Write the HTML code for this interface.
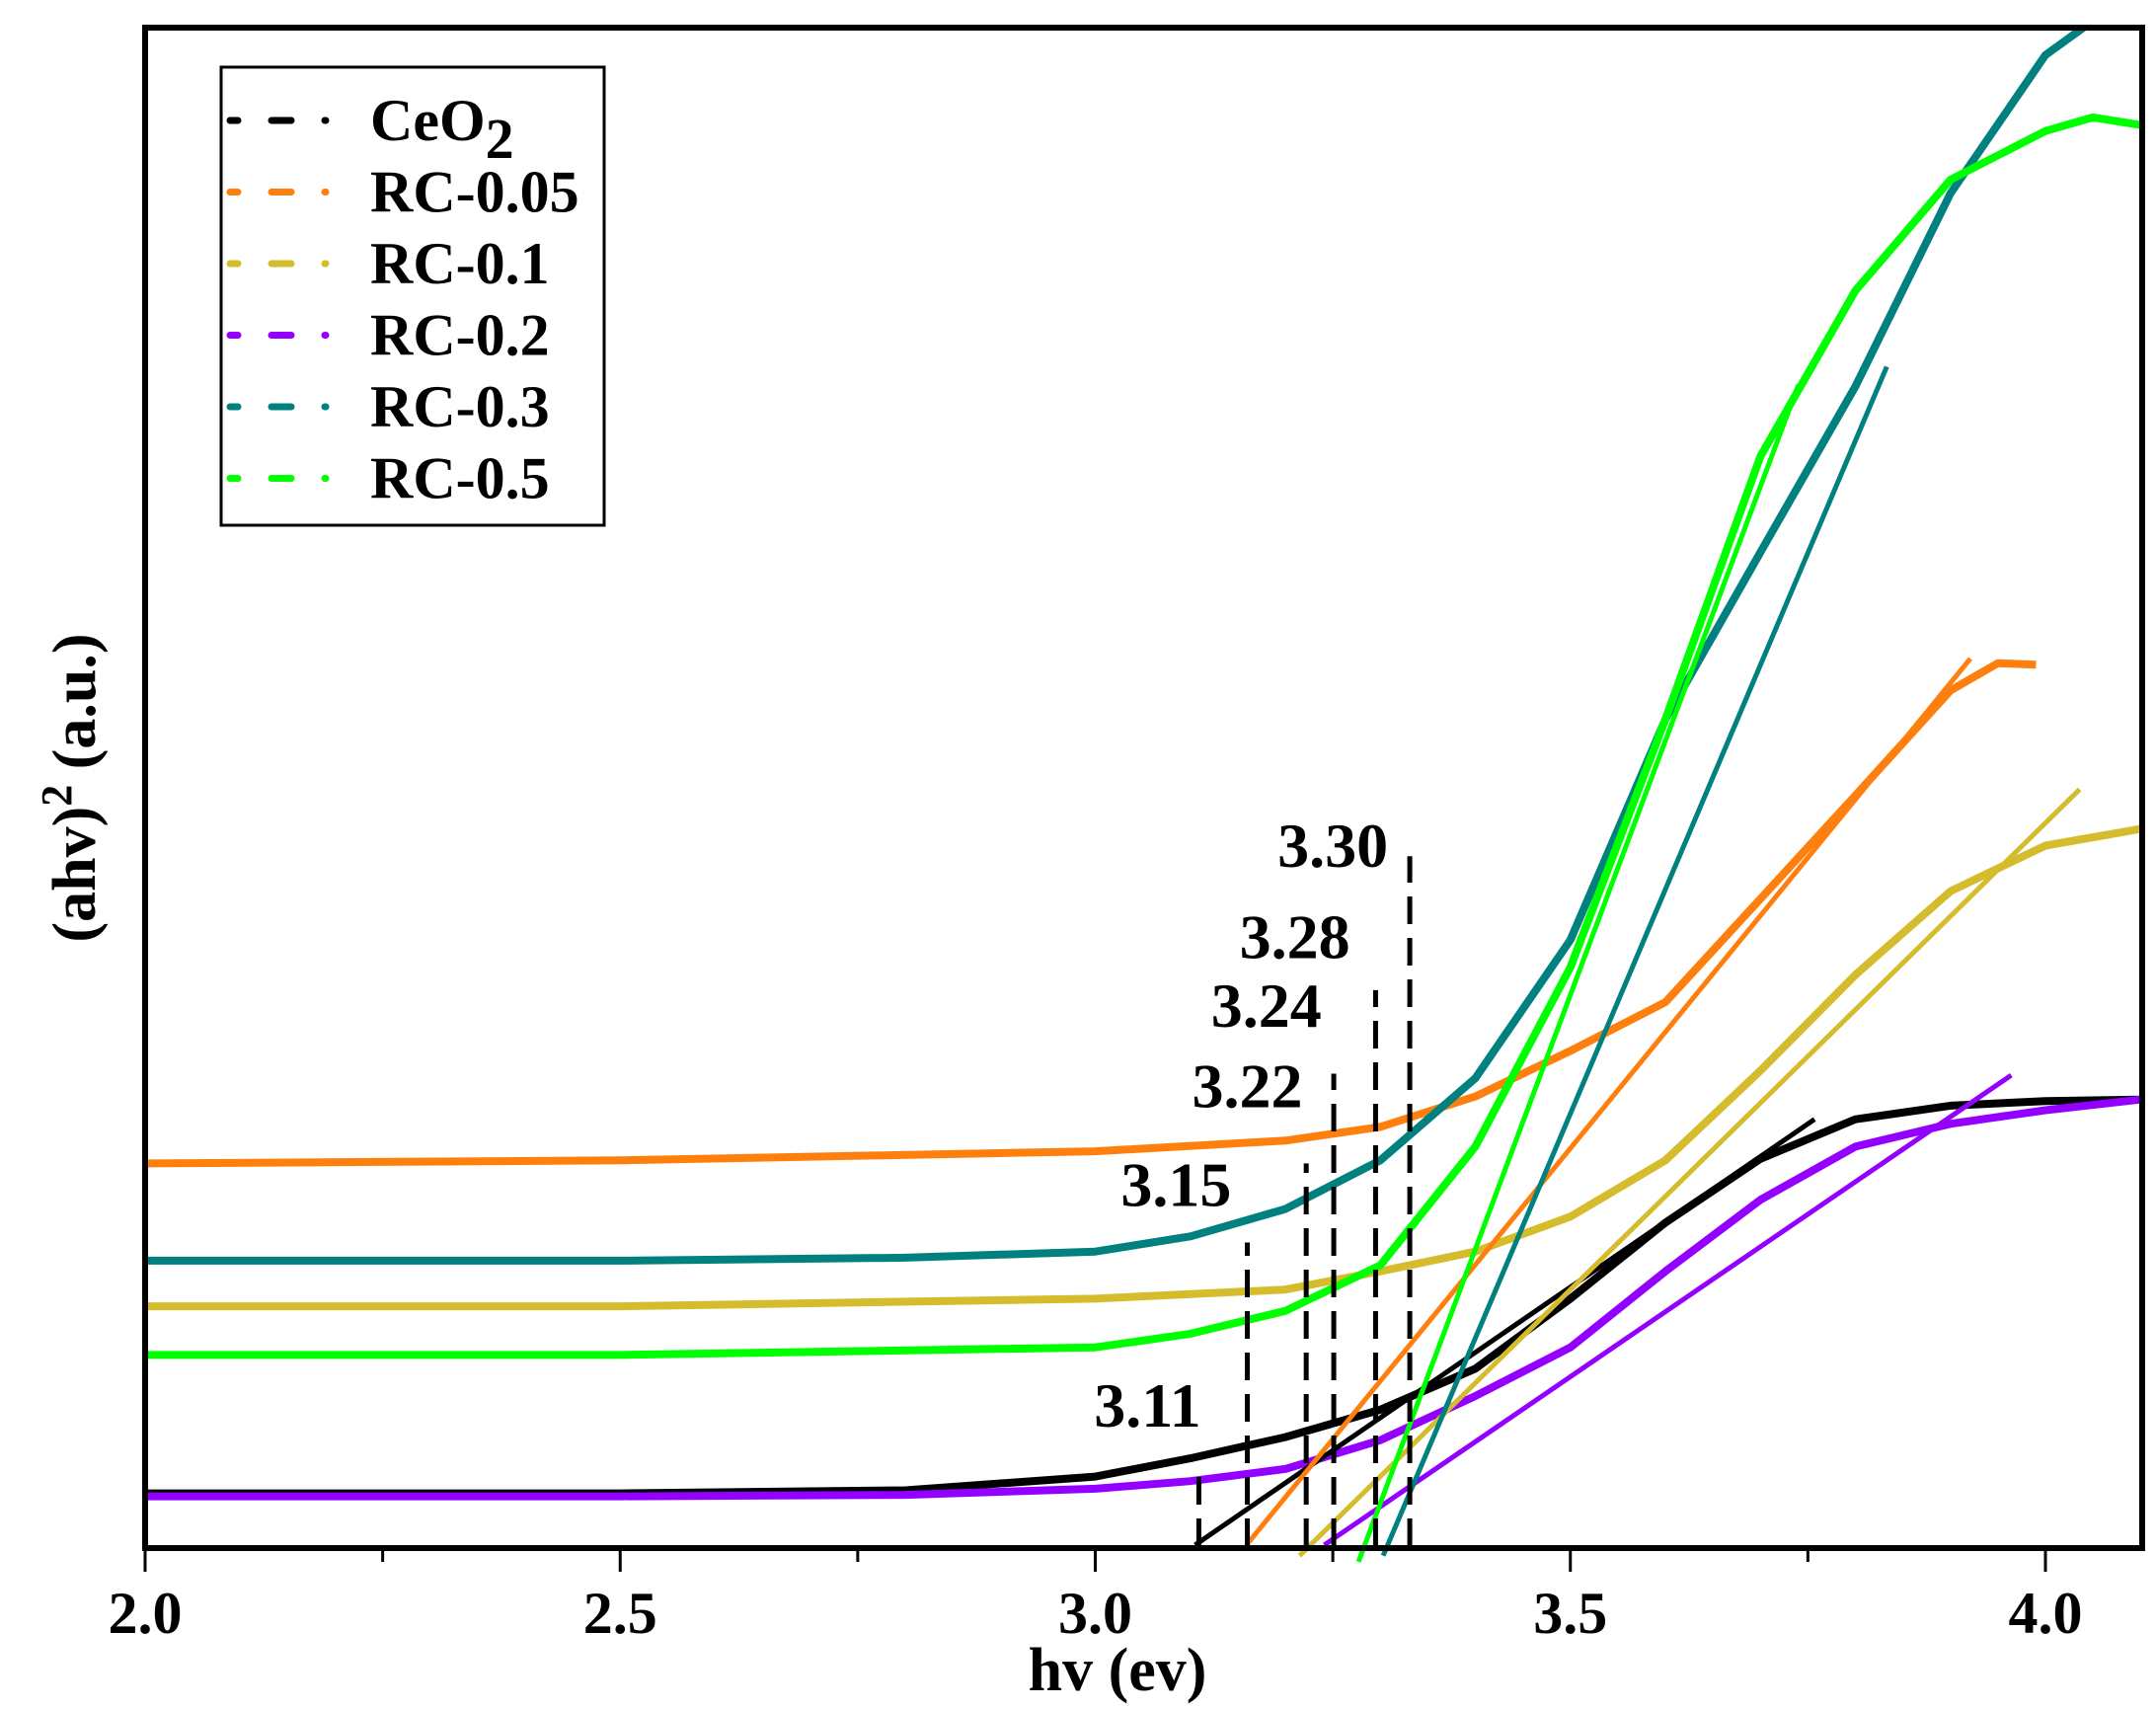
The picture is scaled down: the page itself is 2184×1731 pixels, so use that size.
<!DOCTYPE html>
<html><head><meta charset="utf-8"><style>
html,body{margin:0;padding:0;background:#fff}
svg{display:block}
text{font-family:"Liberation Serif",serif;font-weight:bold;fill:#000}
</style></head><body>
<svg id="chart" width="2184" height="1731" viewBox="0 0 2184 1731" xmlns="http://www.w3.org/2000/svg">
<rect x="0" y="0" width="2184" height="1731" fill="#fff"/>
<g id="marks"></g>
<rect x="147" y="28" width="2023" height="1540" fill="none" stroke="#000" stroke-width="6"/>
<g id="axes"></g>
<text x="1132" y="1712" font-size="62" text-anchor="middle">hv (ev)</text>
<text transform="translate(96,798) rotate(-90)" font-size="62" text-anchor="middle">(ahv)<tspan font-size="44" dy="-24">2</tspan><tspan dy="24"> (a.u.)</tspan></text>
<g>
<rect x="224" y="68" width="388" height="464" fill="#fff" stroke="#000" stroke-width="3"/>
<g id="legend"></g>
</g>
</svg>
<script>
const xTicks = [2.0, 2.5, 3.0, 3.5, 4.0];
const xTickLabels = ["2.0", "2.5", "3.0", "3.5", "4.0"];
const xMinor = [2.25, 2.75, 3.25, 3.75];
const seriesNames = ["CeO2", "RC-0.05", "RC-0.1", "RC-0.2", "RC-0.3", "RC-0.5"];
const seriesColors = ["#000000", "#ff7f0e", "#d4bc2c", "#9400ff", "#00807f", "#00ff00"];
const xCe = [2.0, 2.5, 2.8, 3.0, 3.1, 3.2, 3.3, 3.4, 3.5, 3.6, 3.7, 3.8, 3.9, 4.0, 4.1];
const yCe = [3.6, 3.6, 3.8, 4.7, 5.9, 7.3, 9.1, 11.8, 16.4, 21.4, 25.6, 28.2, 29.1, 29.4, 29.5];
const x005 = [2.0, 2.5, 3.0, 3.2, 3.3, 3.4, 3.5, 3.6, 3.7, 3.8, 3.9, 3.95, 3.99];
const y005 = [25.3, 25.5, 26.1, 26.8, 27.7, 29.7, 32.7, 35.9, 42.7, 49.5, 56.4, 58.2, 58.1];
const x01 = [2.0, 2.5, 3.0, 3.2, 3.3, 3.4, 3.5, 3.6, 3.7, 3.8, 3.9, 4.0, 4.1];
const y01 = [15.9, 15.9, 16.4, 17.0, 18.2, 19.5, 21.8, 25.5, 31.4, 37.7, 43.2, 46.2, 47.3];
const x02 = [2.0, 2.5, 2.8, 3.0, 3.1, 3.2, 3.3, 3.4, 3.5, 3.6, 3.7, 3.8, 3.9, 4.0, 4.1];
const y02 = [3.4, 3.4, 3.5, 3.9, 4.4, 5.2, 7.1, 10.0, 13.2, 18.2, 22.9, 26.4, 27.9, 28.8, 29.5];
const x03 = [2.0, 2.5, 2.8, 3.0, 3.1, 3.2, 3.3, 3.4, 3.5, 3.6, 3.7, 3.8, 3.9, 4.0, 4.04];
const y03 = [18.9, 18.9, 19.1, 19.5, 20.5, 22.3, 25.5, 30.9, 40.0, 54.5, 65.5, 76.4, 89.1, 98.2, 100];
const x05 = [2.0, 2.5, 3.0, 3.1, 3.2, 3.3, 3.4, 3.5, 3.6, 3.7, 3.8, 3.9, 4.0, 4.05, 4.1];
const y05 = [12.7, 12.7, 13.2, 14.1, 15.6, 18.6, 26.4, 38.2, 54.5, 71.8, 82.7, 90.0, 93.2, 94.1, 93.6];
const fitX1 = [3.105, 3.159, 3.215, 3.241, 3.303, 3.277];
const fitY1 = [0.2, 0.2, -0.5, 0.2, -0.5, -0.9];
const fitX2 = [3.757, 3.921, 4.036, 3.964, 3.833, 3.740];
const fitY2 = [28.2, 58.5, 49.9, 31.1, 77.7, 76.5];
const gapX = [3.109, 3.160, 3.222, 3.251, 3.295, 3.331];
const gapTop = [4.9, 20.1, 25.3, 31.2, 36.7, 45.5];
const gapLabels = ["3.11", "3.15", "3.22", "3.24", "3.28", "3.30"];
const gapLabelX = [3.055, 3.085, 3.16, 3.18, 3.21, 3.25];
const gapLabelY = [8.0, 22.5, 29.0, 34.3, 38.8, 44.8];

const NS = "http://www.w3.org/2000/svg";
const X = v => 147 + (v - 2) * 962.5;
const Y = v => 1568 - v * 15.4;
function mk(tag, attrs, parent){const e=document.createElementNS(NS,tag);for(const k in attrs)e.setAttribute(k,attrs[k]);parent.appendChild(e);return e;}
const marks = document.getElementById('marks');
const axes = document.getElementById('axes');
const legend = document.getElementById('legend');
const xsAll=[xCe,x005,x01,x02,x03,x05], ysAll=[yCe,y005,y01,y02,y03,y05];
const keys=["ceo2","rc-0-05","rc-0-1","rc-0-2","rc-0-3","rc-0-5"];
for(let i=0;i<6;i++){
  const pts=xsAll[i].map((x,j)=>X(x).toFixed(1)+','+Y(ysAll[i][j]).toFixed(1)).join(' ');
  const p=mk('polyline',{points:pts,fill:'none',stroke:seriesColors[i],'stroke-width':8,'stroke-linejoin':'round'},marks);
  
  
}
for(let i=0;i<6;i++){
  const l=mk('line',{x1:X(fitX1[i]),y1:Y(fitY1[i]),x2:X(fitX2[i]),y2:Y(fitY2[i]),stroke:seriesColors[i],'stroke-width':5},marks);
  
  
}
for(let i=0;i<gapX.length;i++){
  const l=mk('line',{x1:X(gapX[i]),y1:1566,x2:X(gapX[i]),y2:Y(gapTop[i]),stroke:'#000','stroke-width':5,'stroke-dasharray':'28,14'},marks);
  
  
  const t=mk('text',{x:X(gapLabelX[i]),y:Y(gapLabelY[i]),'font-size':64,'text-anchor':'middle'},marks);
  t.textContent=gapLabels[i];
  
  
}
for(let i=0;i<xTicks.length;i++){
  const l=mk('line',{x1:X(xTicks[i]),y1:1568,x2:X(xTicks[i]),y2:1592,stroke:'#000','stroke-width':3},axes);
  
  
  const t=mk('text',{x:X(xTicks[i]),y:1654,'font-size':60,'text-anchor':'middle'},axes);
  t.textContent=xTickLabels[i];
  
  
}
for(const v of xMinor){
  const l=mk('line',{x1:X(v),y1:1568,x2:X(v),y2:1582,stroke:'#000','stroke-width':3},axes);
  
  
}
for(let i=0;i<6;i++){
  const y=122+i*72.5;
  const g=mk('g',{},legend);
  
  
  mk('line',{x1:233,y1:y,x2:330,y2:y,stroke:seriesColors[i],'stroke-width':7,'stroke-dasharray':'8,34,20,34','stroke-linecap':'round'},g);
  const t=mk('text',{x:375,y:y+20,'font-size':60},g);
  if(i===0){t.innerHTML='CeO<tspan font-size="58" dy="18">2</tspan>';}
  else t.textContent=seriesNames[i];
}
</script>
</body></html>
